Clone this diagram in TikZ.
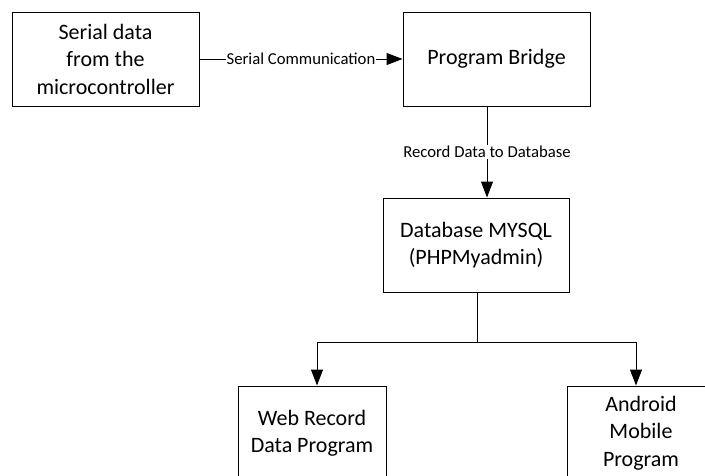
\documentclass[tikz,border=0pt]{standalone}
\usepackage{fontspec}
\setmainfont{Carlito}
\usetikzlibrary{arrows.meta}
\tikzset{
  box/.style={draw=black, line width=1pt, fill=white, align=center, inner sep=2pt,
    font=\fontsize{22}{27.5}\selectfont},
  conn/.style={draw=black, line width=1pt},
  arr/.style={conn, -{Triangle[length=16pt,width=12pt]}},
  lbl/.style={fill=white, inner sep=1pt, font=\fontsize{16.7}{19}\selectfont}
}
\begin{document}
\begin{tikzpicture}[x=1pt,y=-1pt]
\useasboundingbox (0,0) rectangle (705,475);
\clip (0,0) rectangle (705,475);
\node[box, minimum width=187pt, minimum height=94pt] (src) at (105.5,59) {Serial data\\from the\\microcontroller};
\node[box, minimum width=187pt, minimum height=94pt] (bridge) at (496.5,59) {Program Bridge};
\node[box, minimum width=186pt, minimum height=94pt] (db) at (476,245) {Database MYSQL\\(PHPMyadmin)};
\node[box, minimum width=148pt, minimum height=94pt] (web) at (312,433) {Web Record\\Data Program};
\node[box, minimum width=148pt, minimum height=94pt] (android) at (641,433) {Android\\Mobile\\Program};
\coordinate (split) at (477,342);
\draw[arr] (src.east) -- node[lbl] {Serial Communication} (bridge.west);
\draw[arr] (bridge.south -| 487,0) -- node[lbl, pos=0.5] {Record Data to Database} (db.north -| 487,0);
\draw[conn] (db.south -| split) -- (split);
\draw[arr] (split) -| (web.north -| 317,0);
\draw[arr] (split) -| (android.north -| 636,0);
\end{tikzpicture}
\end{document}
